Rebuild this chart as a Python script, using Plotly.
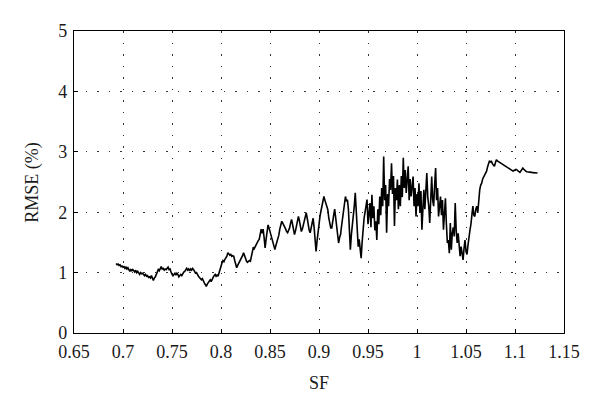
import plotly.graph_objects as go

sf = [
    0.693, 0.694, 0.695, 0.696, 0.697, 0.698, 0.699, 0.700, 0.701, 0.702,
    0.703, 0.704, 0.705, 0.706, 0.707, 0.708, 0.709, 0.710, 0.711, 0.712,
    0.713, 0.714, 0.715, 0.716, 0.717, 0.718, 0.719, 0.720, 0.721, 0.722,
    0.723, 0.724, 0.725, 0.726, 0.727, 0.728, 0.729, 0.730, 0.731, 0.732,
    0.733, 0.734, 0.735, 0.736, 0.737, 0.738, 0.739, 0.740, 0.741, 0.742,
    0.743, 0.744, 0.745, 0.746, 0.747, 0.748, 0.749, 0.750, 0.751, 0.752,
    0.753, 0.754, 0.755, 0.756, 0.757, 0.758, 0.759, 0.760, 0.761, 0.762,
    0.763, 0.764, 0.765, 0.766, 0.767, 0.768, 0.769, 0.770, 0.771, 0.772,
    0.773, 0.774, 0.775, 0.776, 0.777, 0.778, 0.779, 0.780, 0.781, 0.782,
    0.783, 0.784, 0.785, 0.786, 0.787, 0.788, 0.789, 0.790, 0.791, 0.792,
    0.793, 0.794, 0.795, 0.796, 0.797, 0.798, 0.799, 0.800, 0.801, 0.802,
    0.803, 0.804, 0.805, 0.806, 0.807, 0.808, 0.809, 0.810, 0.811, 0.812,
    0.813, 0.814, 0.815, 0.816, 0.817, 0.818, 0.819, 0.820, 0.821, 0.822,
    0.823, 0.824, 0.825, 0.826, 0.827, 0.828, 0.829, 0.830, 0.831, 0.832,
    0.833, 0.834, 0.835, 0.836, 0.837, 0.838, 0.839, 0.840, 0.841, 0.842,
    0.843, 0.844, 0.845, 0.846, 0.847, 0.848, 0.849, 0.850, 0.851, 0.852,
    0.853, 0.854, 0.855, 0.856, 0.857, 0.858, 0.859, 0.860, 0.861, 0.862,
    0.863, 0.864, 0.865, 0.866, 0.867, 0.868, 0.869, 0.870, 0.871, 0.872,
    0.873, 0.874, 0.875, 0.876, 0.877, 0.878, 0.879, 0.880, 0.881, 0.882,
    0.883, 0.884, 0.885, 0.886, 0.887, 0.888, 0.889, 0.890, 0.891, 0.892,
    0.893, 0.894, 0.895, 0.896, 0.897, 0.898, 0.899, 0.900, 0.901, 0.902,
    0.903, 0.904, 0.905, 0.906, 0.907, 0.908, 0.909, 0.910, 0.911, 0.912,
    0.913, 0.914, 0.915, 0.916, 0.917, 0.918, 0.919, 0.920, 0.921, 0.922,
    0.923, 0.924, 0.925, 0.926, 0.927, 0.928, 0.929, 0.930, 0.931, 0.932,
    0.933, 0.934, 0.935, 0.936, 0.937, 0.938, 0.939, 0.940, 0.941, 0.942,
    0.943, 0.944, 0.945, 0.946, 0.947, 0.948, 0.949, 0.950, 0.951, 0.952,
    0.953, 0.954, 0.955, 0.956, 0.957, 0.958, 0.959, 0.960, 0.961, 0.962,
    0.963, 0.964, 0.965, 0.966, 0.967, 0.968, 0.969, 0.970, 0.971, 0.972,
    0.973, 0.974, 0.975, 0.976, 0.977, 0.978, 0.979, 0.980, 0.981, 0.982,
    0.983, 0.984, 0.985, 0.986, 0.987, 0.988, 0.989, 0.990, 0.991, 0.992,
    0.993, 0.994, 0.995, 0.996, 0.997, 0.998, 0.999, 1.000, 1.001, 1.002,
    1.003, 1.004, 1.005, 1.006, 1.007, 1.008, 1.009, 1.010, 1.011, 1.012,
    1.013, 1.014, 1.015, 1.016, 1.017, 1.018, 1.019, 1.020, 1.021, 1.022,
    1.023, 1.024, 1.025, 1.026, 1.027, 1.028, 1.029, 1.030, 1.031, 1.032,
    1.033, 1.034, 1.035, 1.036, 1.037, 1.038, 1.039, 1.040, 1.041, 1.042,
    1.043, 1.044, 1.045, 1.046, 1.047, 1.048, 1.049, 1.050, 1.051, 1.052,
    1.053, 1.054, 1.055, 1.056, 1.057, 1.058, 1.059, 1.060, 1.061, 1.062,
    1.063, 1.064, 1.065, 1.066, 1.067, 1.068, 1.069, 1.070, 1.071, 1.072,
    1.073, 1.074, 1.075, 1.076, 1.077, 1.078, 1.079, 1.080, 1.081, 1.082,
    1.083, 1.084, 1.085, 1.086, 1.087, 1.088, 1.089, 1.090, 1.091, 1.092,
    1.093, 1.094, 1.095, 1.096, 1.097, 1.098, 1.099, 1.100, 1.101, 1.102,
    1.103, 1.104, 1.105, 1.106, 1.107, 1.108, 1.109, 1.110, 1.111, 1.112,
    1.113, 1.114, 1.115, 1.116, 1.117, 1.118, 1.119, 1.120, 1.121, 1.122,
    1.123,
]

rmse = [
    1.15, 1.13, 1.14, 1.12, 1.13, 1.10, 1.11, 1.09, 1.10, 1.07,
    1.09, 1.06, 1.08, 1.04, 1.02, 1.05, 1.03, 1.05, 1.02, 1.01,
    1.04, 1.00, 1.02, 0.98, 0.97, 1.00, 0.98, 0.99, 0.96, 0.95,
    0.97, 0.94, 0.95, 0.92, 0.93, 0.91, 0.95, 0.90, 0.87, 0.91,
    0.93, 0.97, 1.01, 1.05, 1.03, 1.08, 1.10, 1.06, 1.07, 1.04,
    1.06, 1.05, 1.08, 1.09, 1.05, 1.06, 1.01, 0.97, 0.94, 0.97,
    0.99, 0.96, 0.99, 0.97, 0.93, 0.95, 0.97, 0.95, 0.99, 1.01,
    1.02, 1.05, 1.07, 1.04, 1.06, 1.03, 1.06, 1.04, 1.07, 1.05,
    1.02, 0.99, 1.00, 0.96, 0.94, 0.92, 0.90, 0.88, 0.90, 0.85,
    0.83, 0.80, 0.77, 0.81, 0.84, 0.86, 0.88, 0.85, 0.90, 0.92,
    0.95, 0.97, 0.94, 0.96, 0.94, 1.00, 1.06, 1.13, 1.16, 1.20,
    1.18, 1.22, 1.24, 1.27, 1.33, 1.31, 1.29, 1.30, 1.27, 1.28,
    1.27, 1.20, 1.15, 1.08, 1.12, 1.15, 1.18, 1.21, 1.25, 1.28,
    1.33, 1.27, 1.22, 1.19, 1.17, 1.18, 1.20, 1.19, 1.28, 1.36,
    1.42, 1.40, 1.44, 1.48, 1.50, 1.53, 1.55, 1.62, 1.72, 1.65,
    1.72, 1.58, 1.41, 1.55, 1.70, 1.79, 1.74, 1.68, 1.63, 1.60,
    1.52, 1.45, 1.38, 1.45, 1.50, 1.54, 1.62, 1.72, 1.80, 1.85,
    1.82, 1.79, 1.77, 1.72, 1.68, 1.66, 1.70, 1.74, 1.82, 1.88,
    1.80, 1.70, 1.63, 1.69, 1.76, 1.85, 1.93, 1.86, 1.76, 1.68,
    1.72, 1.80, 1.88, 1.95, 1.99, 1.90, 1.78, 1.70, 1.66, 1.75,
    1.84, 1.90, 1.75, 1.55, 1.35, 1.52, 1.70, 1.82, 1.93, 2.02,
    2.10, 2.18, 2.26, 2.20, 2.15, 2.08, 2.04, 1.90, 1.80, 1.74,
    1.74, 1.88, 1.95, 2.05, 1.92, 1.85, 1.68, 1.49, 1.58, 1.63,
    1.77, 1.92, 2.05, 2.15, 2.26, 2.18, 2.21, 2.05, 1.60, 1.38,
    1.62, 1.75, 1.93, 2.10, 2.32, 2.05, 1.80, 1.43, 1.55, 1.30,
    1.24, 1.50, 1.77, 1.90, 2.00, 2.12, 2.21, 1.80, 1.99, 2.15,
    1.75, 2.29, 1.90, 2.10, 1.70, 1.85, 1.54, 2.05, 1.80, 2.26,
    1.95, 2.40, 2.10, 2.92, 2.20, 2.45, 1.66, 2.30, 2.10, 2.55,
    2.37, 2.81, 2.30, 2.60, 1.77, 2.40, 2.20, 2.54, 2.05, 2.45,
    2.10, 2.60, 2.25, 2.90, 2.40, 2.70, 2.32, 2.65, 2.76, 2.20,
    2.55, 2.26, 2.45, 2.59, 2.10, 2.40, 1.93, 2.30, 2.10, 2.48,
    2.00, 2.35, 1.71, 2.20, 2.37, 2.05, 2.50, 2.65, 2.25, 2.10,
    1.82, 2.30, 2.59, 2.20, 2.10, 2.45, 2.73, 2.20, 2.40, 1.93,
    2.15, 2.26, 1.95, 2.20, 1.71, 2.00, 2.23, 1.80, 1.49, 1.54,
    1.32, 1.82, 1.38, 1.65, 1.75, 1.60, 2.15, 1.70, 1.49, 1.65,
    1.40, 1.27, 1.43, 1.30, 1.21, 1.40, 1.54, 1.35, 1.30, 1.45,
    1.54, 1.70, 1.80, 2.04, 2.10, 1.95, 1.93, 2.05, 2.10, 1.99,
    2.20, 2.37, 2.45, 2.48, 2.55, 2.58, 2.62, 2.65, 2.68, 2.75,
    2.81, 2.85, 2.83, 2.84, 2.80, 2.78, 2.76, 2.82, 2.87, 2.85,
    2.84, 2.83, 2.81, 2.80, 2.79, 2.78, 2.77, 2.76, 2.75, 2.74,
    2.73, 2.72, 2.71, 2.70, 2.69, 2.68, 2.69, 2.70, 2.71, 2.70,
    2.68, 2.67, 2.66, 2.69, 2.71, 2.73, 2.71, 2.69, 2.68, 2.67,
    2.67, 2.66, 2.66, 2.66, 2.66, 2.655, 2.655, 2.65, 2.65, 2.65,
    2.65,
]

x_ticks = [0.65, 0.7, 0.75, 0.8, 0.85, 0.9, 0.95, 1.0, 1.05, 1.1, 1.15]
x_tick_text = ["0.65", "0.7", "0.75", "0.8", "0.85", "0.9", "0.95", "1", "1.05", "1.1", "1.15"]
y_ticks = [0, 1, 2, 3, 4, 5]

FONT = "Liberation Serif"
TXT = "#1a1a1a"

fig = go.Figure()
fig.add_trace(go.Scatter(x=sf, y=rmse, mode="lines",
                         line=dict(color="black", width=1.6), showlegend=False))

axis_common = dict(
    showline=True, linecolor="black", linewidth=1.2, mirror=True,
    ticks="inside", ticklen=4, tickcolor="black",
    showgrid=True, gridcolor="#333333", gridwidth=1, griddash="1.5px,10px",
    zeroline=False, automargin=False,
    tickfont=dict(family=FONT, size=18, color=TXT),
)

fig.update_xaxes(range=[0.65, 1.15], tickvals=x_ticks, ticktext=x_tick_text,
                 ticklabelstandoff=2, **axis_common)
fig.update_yaxes(range=[0, 5], tickvals=y_ticks,
                 ticklabelstandoff=2, **axis_common)

fig.add_annotation(text="SF", xref="paper", yref="paper", x=0.5, y=-0.165,
                   xanchor="center", yanchor="middle", showarrow=False,
                   font=dict(family=FONT, size=18, color=TXT))
fig.add_annotation(text="RMSE (%)", xref="paper", yref="paper", x=-0.086, y=0.5,
                   xanchor="center", yanchor="middle", showarrow=False, textangle=-90,
                   font=dict(family=FONT, size=18, color=TXT))

# page body has an 8px default margin, so the figure is sized to fit the 600x411 window
fig.update_layout(width=592, height=403, plot_bgcolor="white", paper_bgcolor="white",
                  margin=dict(l=66, r=36, t=23, b=78))

fig.write_html("out.html")
